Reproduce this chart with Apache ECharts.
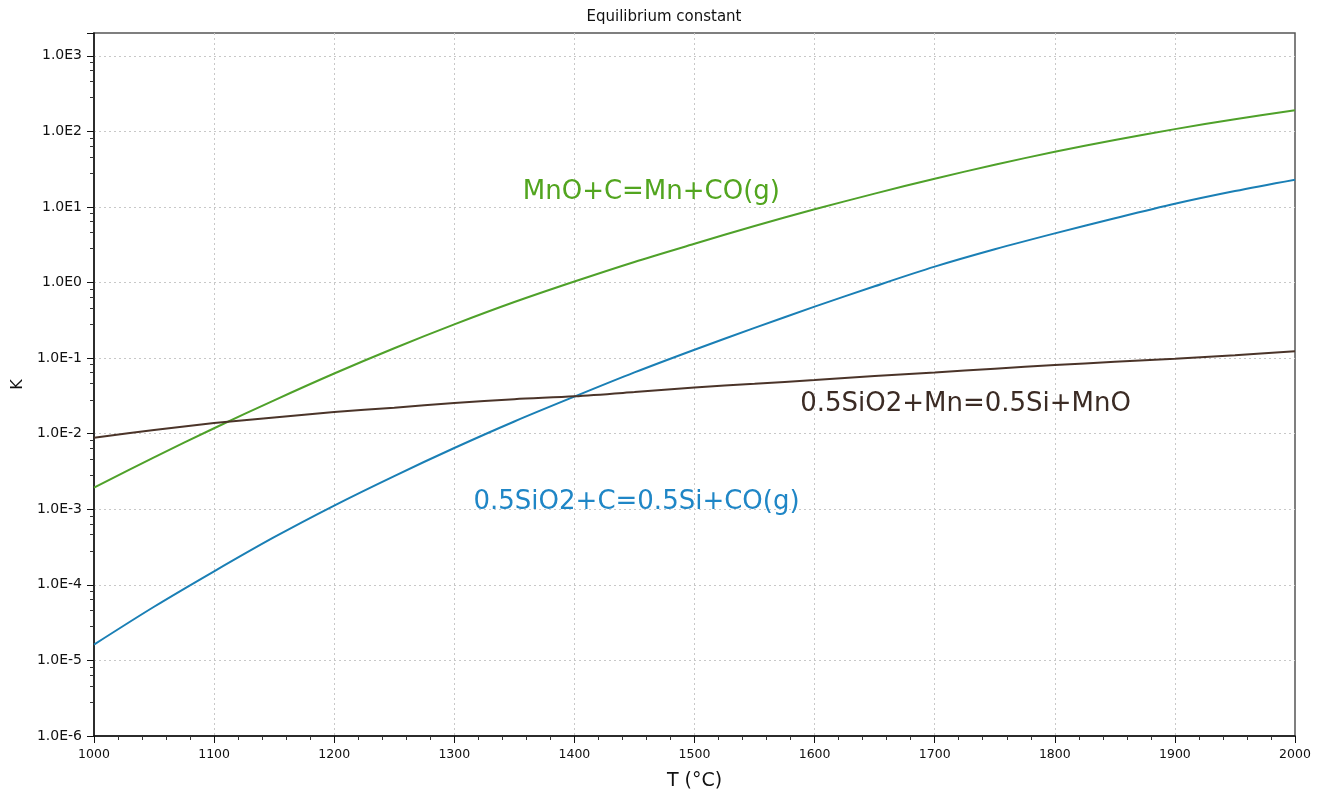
<!DOCTYPE html>
<html>
<head>
<meta charset="utf-8">
<script src="https://cdn.jsdelivr.net/npm/echarts@6/dist/echarts.min.js"></script>
<style>
html,body{margin:0;padding:0;background:#fff;}
#chart{width:1328px;height:797px;}
</style>
</head>
<body>
<div id="chart"></div>
<script>
// Temperatures (°C)
const temps = [1000,1050,1100,1150,1200,1250,1300,1350,1400,1450,1500,1550,1600,1650,1700,1750,1800,1850,1900,1950,2000];
// MnO+C=Mn+CO(g)
const kMnO = [1.93e-3,4.85e-3,0.0118,0.0276,0.0625,0.135,0.279,0.551,1.03,1.87,3.25,5.6,9.3,15.0,23.6,36.2,53.6,76.9,107,145,190];
// 0.5SiO2+C=0.5Si+CO(g)
const kSiO2C = [1.62e-5,5.13e-5,1.51e-4,4.27e-4,1.12e-3,2.75e-3,6.46e-3,1.45e-2,3.09e-2,6.46e-2,0.129,0.251,0.479,0.891,1.62,2.75,4.47,7.08,11.0,16.2,22.9];
// 0.5SiO2+Mn=0.5Si+MnO
const kSiO2Mn = [8.8e-3,0.0112,0.0138,0.0164,0.0193,0.0221,0.0254,0.0286,0.0312,0.0355,0.0408,0.0457,0.0513,0.0580,0.0646,0.0724,0.0810,0.0891,0.0980,0.109,0.123];

const seriesNames = ['MnO+C=Mn+CO(g)','0.5SiO2+C=0.5Si+CO(g)','0.5SiO2+Mn=0.5Si+MnO'];
// label anchor points [T, K]
const labelAnchors = [[1357,15.8],[1316,1.23e-3],[1588,0.0242]];

const xTitle = 'T (\u00B0C)';
const yTitle = 'K';
const chartTitle = 'Equilibrium constant';

const lineColors = ['#4fa12a','#1a7fb5','#4b3429'];
const textColors = ['#52a51f','#1f86c6','#3b2b24'];

const FONT = 'DejaVu Sans';

function pairs(ys){ return temps.map((t,i)=>[t,ys[i]]); }

function mkSeries(idx, ys){
  return {
    name: seriesNames[idx],
    type:'line',
    data: pairs(ys),
    showSymbol:false,
    smooth:0.3,
    lineStyle:{color:lineColors[idx],width:2},
    itemStyle:{color:lineColors[idx]},
    silent:true,
    markPoint:{
      symbol:'circle', symbolSize:0, silent:true,
      data:[{coord:labelAnchors[idx]}],
      label:{show:true, position:'right', distance:0, formatter:seriesNames[idx],
             color:textColors[idx], fontSize:26, fontFamily:FONT}
    }
  };
}

const chart = echarts.init(document.getElementById('chart'));
chart.setOption({
  animation:false,
  title:{text:chartTitle,left:'center',top:5,textStyle:{fontSize:15,fontWeight:'normal',color:'#111',fontFamily:FONT}},
  grid:{left:94,right:33,top:33,bottom:61,show:true,borderColor:'#555',borderWidth:1.5,backgroundColor:'transparent'},
  xAxis:{
    type:'value',min:1000,max:2000,interval:100,
    name:xTitle,nameLocation:'middle',nameGap:36,
    nameTextStyle:{fontSize:19,color:'#111',fontFamily:FONT},
    axisLine:{lineStyle:{color:'#111',width:1.5}},
    axisTick:{show:true,length:7,lineStyle:{color:'#111'}},
    minorTick:{show:true,splitNumber:5,length:4,lineStyle:{color:'#333'}},
    axisLabel:{color:'#111',fontSize:12.5,margin:12,fontFamily:FONT,
      formatter:function(v){ return String(v); }},
    splitLine:{show:true,showMinLine:false,showMaxLine:false,lineStyle:{color:'#c8c8c8',type:[2,3]}}
  },
  yAxis:{
    type:'log',logBase:10,min:1e-6,max:2000,interval:1,
    name:yTitle,nameLocation:'middle',nameGap:68,nameRotate:90,
    nameTextStyle:{fontSize:16,color:'#111',fontFamily:FONT},
    axisLine:{lineStyle:{color:'#111',width:1.5}},
    axisTick:{show:true,length:7,lineStyle:{color:'#111'}},
    minorTick:{show:true,splitNumber:5,length:4,lineStyle:{color:'#333'}},
    axisLabel:{color:'#111',fontSize:14,margin:12,fontFamily:FONT,
      formatter:function(v){
        const e = Math.log10(v);
        const r = Math.round(e);
        if (Math.abs(e-r)>1e-6) return '';
        return '1.0E'+r;
      }},
    splitLine:{show:true,showMinLine:false,showMaxLine:false,lineStyle:{color:'#c8c8c8',type:[2,3]}}
  },
  series:[mkSeries(0,kMnO),mkSeries(1,kSiO2C),mkSeries(2,kSiO2Mn)]
});
</script>
</body>
</html>
